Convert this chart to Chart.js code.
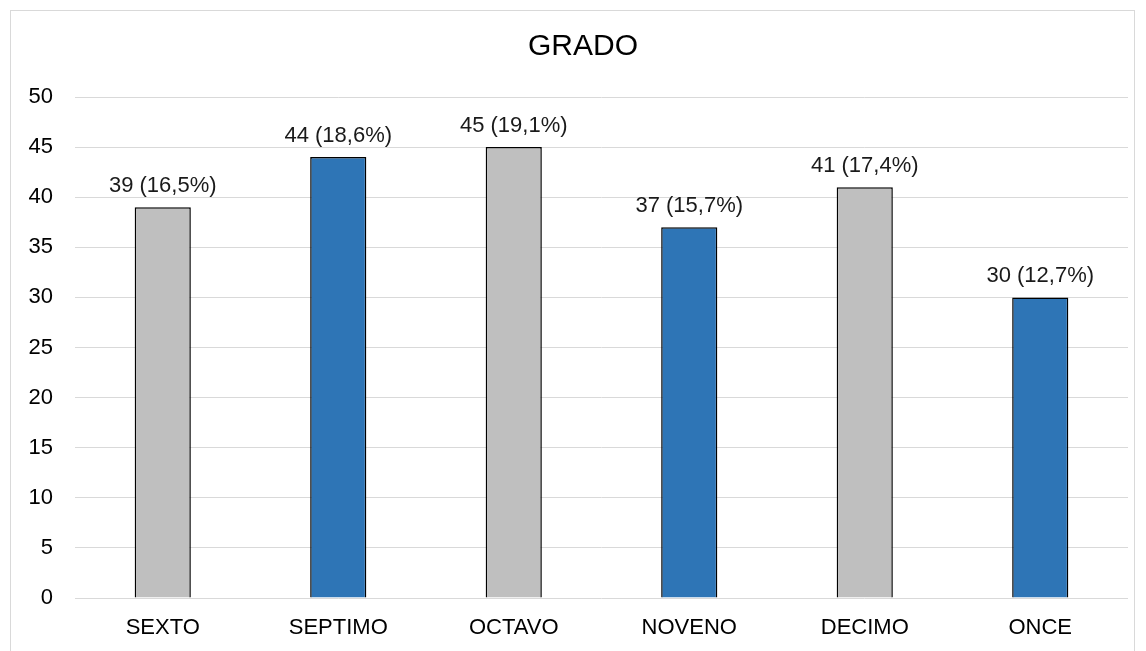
<!DOCTYPE html>
<html>
<head>
<meta charset="utf-8">
<script src="https://cdn.jsdelivr.net/npm/chart.js@4/dist/chart.umd.min.js"></script>
<style>
  html, body { margin: 0; padding: 0; background: #fff; }
  #wrap { position: relative; width: 1146px; height: 651px; overflow: hidden; }
  #frame { position: absolute; left: 10px; top: 10px; width: 1125px; height: 680px; border: 1px solid #d9d9d9; box-sizing: border-box; }
  canvas { position: absolute; left: 0; top: 0; }
</style>
</head>
<body>
<div id="wrap">
  <div id="frame"></div>
  <canvas id="gradoChart" width="1146" height="651"></canvas>
</div>
<script>
const categories = ['SEXTO', 'SEPTIMO', 'OCTAVO', 'NOVENO', 'DECIMO', 'ONCE'];
const counts = [39, 44, 45, 37, 41, 30];
const percents = ['16,5', '18,6', '19,1', '15,7', '17,4', '12,7'];
const yTicks = [0, 5, 10, 15, 20, 25, 30, 35, 40, 45, 50];
const barColors = ['#bfbfbf', '#2e75b6', '#bfbfbf', '#2e75b6', '#bfbfbf', '#2e75b6'];

const FONT = '"Liberation Sans", Arial, sans-serif';

// labels like "39 (16,5%)" over each bar
const valueLabels = {
  id: 'valueLabels',
  afterDatasetsDraw(chart) {
    const ctx = chart.ctx;
    const meta = chart.getDatasetMeta(0);
    ctx.save();
    ctx.font = '22px ' + FONT;
    ctx.fillStyle = '#1a1a1a';
    ctx.textAlign = 'center';
    ctx.textBaseline = 'alphabetic';
    meta.data.forEach((bar, i) => {
      ctx.fillText(counts[i] + ' (' + percents[i] + '%)', bar.x, bar.y - 15);
    });
    ctx.restore();
  }
};

// title sits a bit right of the canvas centre in the original
const shiftTitle = {
  id: 'shiftTitle',
  afterLayout(chart) {
    if (chart.titleBlock) chart.titleBlock.left += 38;
  }
};

new Chart(document.getElementById('gradoChart').getContext('2d'), {
  type: 'bar',
  data: {
    labels: categories,
    datasets: [{
      data: counts,
      backgroundColor: barColors,
      borderColor: '#000000',
      borderWidth: 1.5,
      barPercentage: 0.32,
      categoryPercentage: 1.0
    }]
  },
  options: {
    responsive: false,
    animation: false,
    layout: { padding: { top: 0, right: 18, bottom: 0, left: 0 } },
    plugins: {
      legend: { display: false },
      tooltip: { enabled: false },
      title: {
        display: true,
        text: 'GRADO',
        color: '#000000',
        font: { family: FONT, size: 30, weight: 'normal' },
        padding: { top: 29, bottom: 32 }
      }
    },
    scales: {
      x: {
        grid: { display: false, drawTicks: false },
        border: { display: false },
        ticks: {
          color: '#000000',
          padding: 17,
          font: { family: FONT, size: 22 }
        },
        afterFit(scale) { scale.height = 53; }
      },
      y: {
        min: 0,
        max: 50,
        afterBuildTicks(scale) { scale.ticks = yTicks.map(v => ({ value: v })); },
        grid: { color: '#d9d9d9', lineWidth: 1, drawTicks: false },
        border: { display: false },
        ticks: {
          color: '#000000',
          padding: 22,
          font: { family: FONT, size: 22 }
        },
        afterFit(scale) { scale.width = 75; }
      }
    }
  },
  plugins: [valueLabels, shiftTitle]
});
</script>
</body>
</html>
